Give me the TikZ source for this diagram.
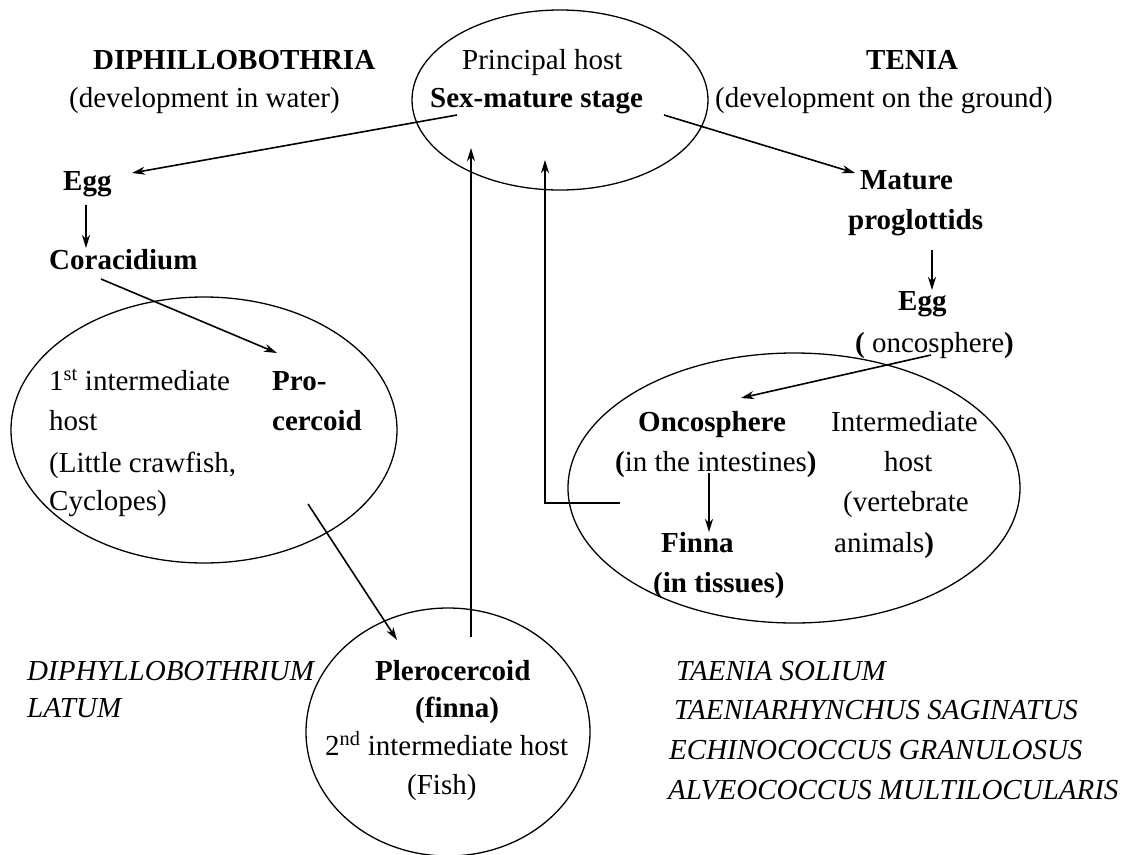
\documentclass[tikz,border=0pt]{standalone}
\usepackage{fontspec}
\setmainfont{Liberation Serif}
\usetikzlibrary{arrows.meta}
\begin{document}
\begin{tikzpicture}[x=1pt,y=-1pt,
  txt/.style={anchor=west, inner sep=0pt, font=\fontsize{29}{35}\selectfont, text height=20pt, text depth=6pt},
  btxt/.style={txt, font=\fontsize{29}{35}\selectfont\bfseries},
  itxt/.style={txt, font=\fontsize{29}{35}\selectfont\itshape},
  host/.style={draw, line width=1.3pt},
  arr/.style={line width=1.6pt, -{Stealth[length=13pt,width=8pt,inset=4pt]}}]
\useasboundingbox (0,0) rectangle (1132,854);
% host ellipses
\draw[host] (560,100) ellipse [x radius=148, y radius=90];
\draw[host] (204,430) ellipse [x radius=193, y radius=133];
\draw[host] (794,488) ellipse [x radius=226, y radius=135];
\draw[host] (448,732) ellipse [x radius=142, y radius=124];
% headings
\node[btxt] (diph) at (93,62) {DIPHILLOBOTHRIA};
\node[txt] (water) at (69,100) {(development in water)};
\node[txt] (princ) at (462,62) {Principal host};
\node[btxt] (sexm) at (430,100) {Sex-mature stage};
\node[btxt] (tenia) at (866,62) {TENIA};
\node[txt] (ground) at (715,100) {(development on the ground)};
% left branch
\node[btxt] (eggL) at (63,183) {Egg};
\node[btxt] (cora) at (49,262) {Coracidium};
\node[txt] (h1a) at (49,383) {1\textsuperscript{st} intermediate};
\node[txt] (h1b) at (49,423) {host};
\node[txt] (h1c) at (49,465) {(Little crawfish,};
\node[txt] (h1d) at (49,503) {Cyclopes)};
\node[btxt] (proa) at (272,383) {Pro-};
\node[btxt] (prob) at (272,423) {cercoid};
\node[itxt] (dlat1) at (27,673) {DIPHYLLOBOTHRIUM};
\node[itxt] (dlat2) at (27,710) {LATUM};
\node[btxt] (pler) at (375,673) {Plerocercoid};
\node[btxt] (finna) at (415,710) {(finna)};
\node[txt] (h2a) at (325,748) {2\textsuperscript{nd} intermediate host};
\node[txt] (h2b) at (407,787) {(Fish)};
% right branch
\node[btxt] (mat1) at (860,182) {Mature};
\node[btxt] (mat2) at (848,222) {proglottids};
\node[btxt] (eggR) at (898,303) {Egg};
\node[txt] (onco) at (855,345) {{\bfseries(} oncosphere{\bfseries)}};
\node[btxt] (onc1) at (638,424) {Oncosphere};
\node[txt] (onc2) at (615,464) {{\bfseries(}in the intestines{\bfseries)}};
\node[btxt] (fin1) at (661,545) {Finna};
\node[btxt] (fin2) at (653,585) {(in tissues)};
\node[txt] (ih1) at (831,424) {Intermediate};
\node[txt] (ih2) at (884,464) {host};
\node[txt] (ih3) at (843,504) {(vertebrate};
\node[txt] (ih4) at (834,545) {animals{\bfseries)}};
\node[itxt] (t1) at (676,673) {TAENIA SOLIUM};
\node[itxt] (t2) at (674,712) {TAENIARHYNCHUS SAGINATUS};
\node[itxt] (t3) at (669,752) {ECHINOCOCCUS GRANULOSUS};
\node[itxt] (t4) at (668,792) {ALVEOCOCCUS MULTILOCULARIS};
% connector end points
\coordinate (s1) at (457,115); \coordinate (e1) at (132,173);
\coordinate (s2) at (86,205);  \coordinate (e2) at (86,248);
\coordinate (s3) at (101,279); \coordinate (e3) at (277,353);
\coordinate (s4) at (308,504); \coordinate (e4) at (397,640);
\coordinate (s5) at (471,637); \coordinate (e5) at (471,148);
\coordinate (s6) at (620,503); \coordinate (m6) at (545,503); \coordinate (e6) at (545,160);
\coordinate (s7) at (664,115); \coordinate (e7) at (855,173);
\coordinate (s8) at (932,250); \coordinate (e8) at (932,290);
\coordinate (s9) at (931,355); \coordinate (e9) at (741,398);
\coordinate (s10) at (709,473); \coordinate (e10) at (709,532);
% connectors
\draw[arr] (s1) -- (e1);
\draw[arr] (s2) -- (e2);
\draw[arr] (s3) -- (e3);
\draw[arr] (s4) -- (e4);
\draw[arr] (s5) -- (e5);
\draw[arr] (s6) -- (m6) -- (e6);
\draw[arr] (s7) -- (e7);
\draw[arr] (s8) -- (e8);
\draw[arr] (s9) -- (e9);
\draw[arr] (s10) -- (e10);
\end{tikzpicture}
\end{document}
